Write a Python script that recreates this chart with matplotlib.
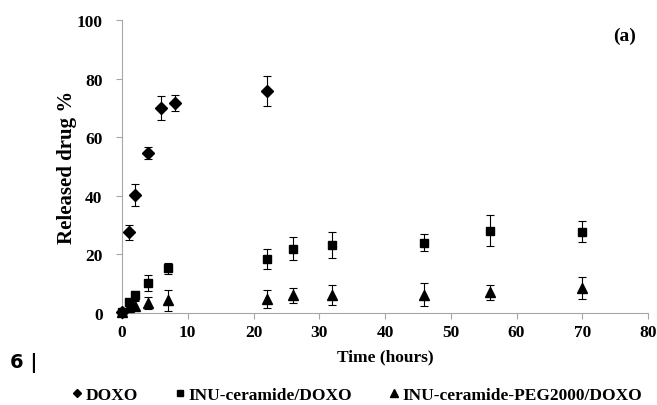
import numpy as np
import matplotlib.pyplot as plt
from matplotlib.lines import Line2D

plt.rcParams['font.family'] = ['Liberation Serif']
plt.rcParams['font.weight'] = 'bold'

# DOXO
t_doxo = [0, 1, 2, 4, 6, 8, 22]
doxo = [0.5, 27.5, 40.3, 54.6, 70.0, 71.8, 75.8]
doxo_err = [0.5, 2.5, 3.7, 2.0, 4.2, 2.7, 5.0]

# INU-ceramide/DOXO
t_cer = [0, 1, 2, 4, 7, 22, 26, 32, 46, 56, 70]
cer = [0.5, 3.8, 6.0, 10.2, 15.2, 18.3, 22.0, 23.2, 24.0, 28.0, 27.8]
cer_err = [0.5, 1.0, 1.5, 2.7, 2.0, 3.4, 3.8, 4.5, 3.0, 5.3, 3.5]

# INU-ceramide-PEG2000/DOXO
t_peg = [0, 1, 2, 4, 7, 22, 26, 32, 46, 56, 70]
peg = [0.3, 2.0, 2.5, 3.4, 4.3, 4.7, 6.0, 6.0, 6.2, 7.0, 8.5]
peg_err = [0.3, 0.8, 1.5, 2.0, 3.5, 3.0, 2.6, 3.4, 3.9, 2.6, 3.7]

labels = ['DOXO', 'INU-ceramide/DOXO', 'INU-ceramide-PEG2000/DOXO']

fig = plt.figure(figsize=(6.57, 4.06), dpi=100)
ax = fig.add_axes([0.1857, 0.2266, 0.8006, 0.7217])

ekw = dict(ls='none', color='black', ecolor='black', elinewidth=0.8,
           capsize=2.7, capthick=0.8, clip_on=False, zorder=3)
ax.errorbar(t_doxo, doxo, yerr=doxo_err, marker='D', ms=6, **ekw)
ax.errorbar(t_cer, cer, yerr=cer_err, marker='s', ms=5.5, **ekw)
ax.errorbar(t_peg, peg, yerr=peg_err, marker='^', ms=7, **ekw)

ax.set_xlim(0, 80)
ax.set_ylim(0, 100)
ax.set_xticks(np.arange(0, 81, 10))
ax.set_yticks(np.arange(0, 101, 20))
for s in ['top', 'right']:
    ax.spines[s].set_visible(False)
for s in ['left', 'bottom']:
    ax.spines[s].set_color('#a6a6a6')
ax.tick_params(axis='both', colors='#a6a6a6', labelcolor='black', labelsize=12.5, length=4)
ax.tick_params(axis='y', pad=10)
ax.tick_params(axis='x', pad=4)
for lab in ax.get_xticklabels() + ax.get_yticklabels():
    lab.set_fontweight('bold')

ax.set_xlabel('Time (hours)', fontsize=12.5, fontweight='bold', labelpad=6)
ax.set_ylabel('Released drug %', fontsize=15, fontweight='bold', labelpad=0)

fig.text(0.951, 0.911, '(a)', fontsize=14, fontweight='bold', ha='center', va='center')
fig.text(0.015, 1 - 363 / 406, '6 |', fontsize=14, fontweight='bold', family='DejaVu Sans',
         ha='left', va='center')

handles = [Line2D([], [], ls='none', color='black', marker='D', ms=4.5),
           Line2D([], [], ls='none', color='black', marker='s', ms=4.5),
           Line2D([], [], ls='none', color='black', marker='^', ms=5.5)]
fig.legend(handles, labels, loc='center left', bbox_to_anchor=(72 / 657, 1 - 396 / 406),
           ncol=3, frameon=False, fontsize=12.5, handlelength=0.6, handletextpad=0.2,
           columnspacing=2.1, borderpad=0, borderaxespad=0)

fig.savefig('out.png', dpi=100)
